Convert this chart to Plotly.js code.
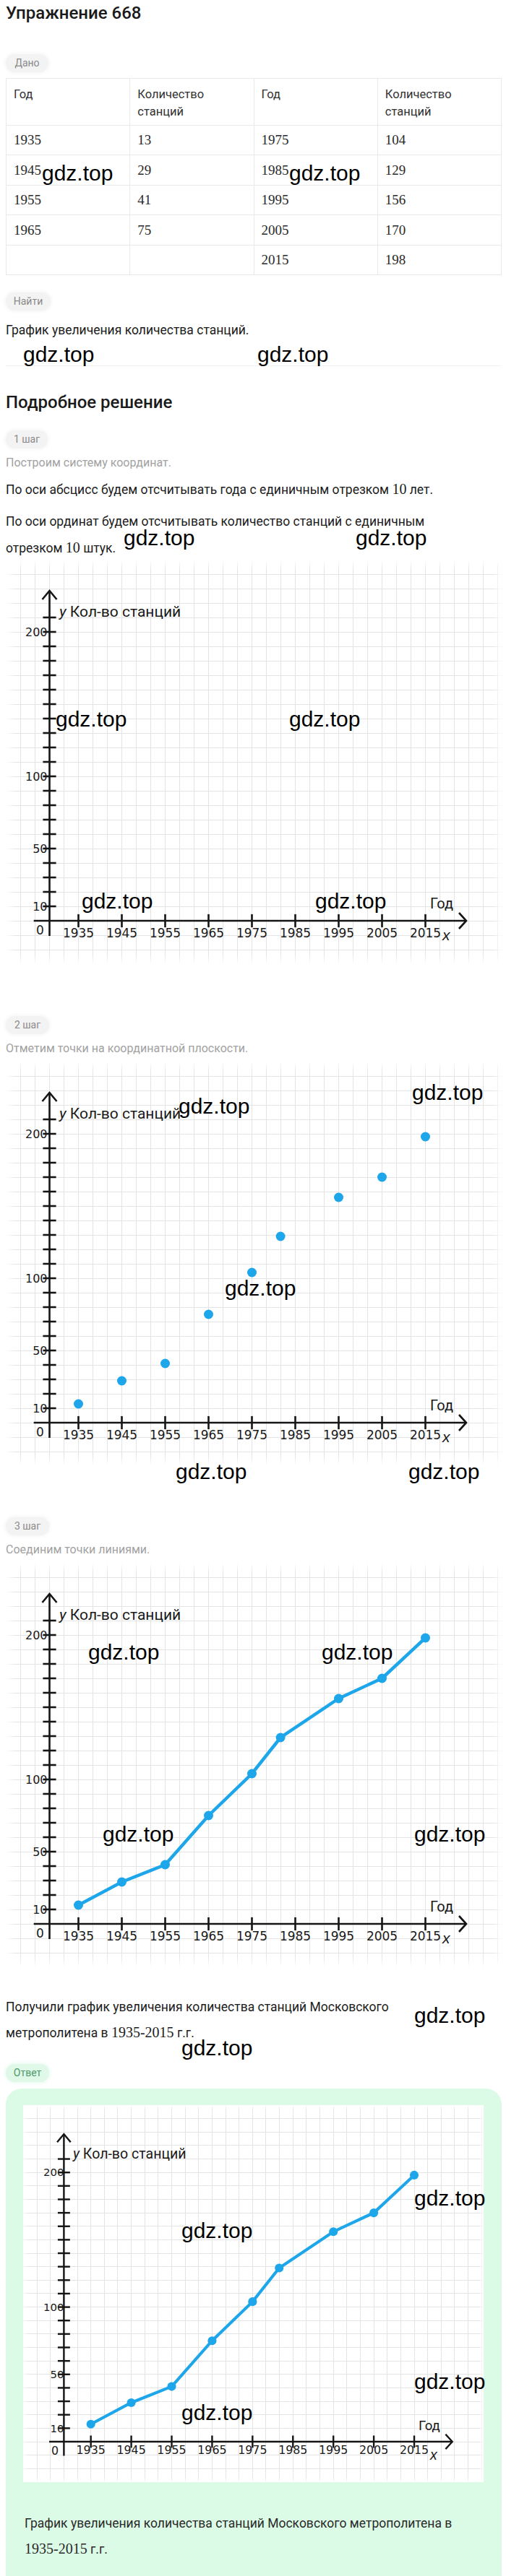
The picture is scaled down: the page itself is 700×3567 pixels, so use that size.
<!DOCTYPE html>
<html>
<head>
<meta charset="utf-8">
<script src="https://cdn.plot.ly/plotly-3.0.1.min.js"></script>
<style>
html,body{margin:0;padding:0;background:#fff;}
#page{position:relative;width:700px;height:3567px;overflow:hidden;font-family:Roboto,"Noto Sans",sans-serif;color:#1c1c1c;}
.t{position:absolute;left:8px;white-space:nowrap;}
.h{font-size:24px;font-weight:500;line-height:28px;color:#1a1a1a;}
.body{font-size:17.5px;line-height:24px;color:#1c1c1c;}
.gray{font-size:16px;line-height:24px;color:#a2a2a2;}
.pill{position:absolute;left:8px;height:25px;line-height:25px;border-radius:13px;background:#f3f3f3;color:#8a8a8a;font-size:14px;text-align:center;box-shadow:0 0 4px 2px #f7f7f7;}
.m{font-family:"Liberation Serif","DejaVu Serif",serif;font-size:20px;}
.wm{position:absolute;font-family:"Liberation Sans",Arial,sans-serif;font-size:30px;line-height:34px;color:#000;white-space:nowrap;z-index:10;}
.panel{position:absolute;background:#fff;}
.fade{position:absolute;left:0;top:0;right:0;bottom:0;pointer-events:none;z-index:3;}
.chart{position:absolute;left:0;top:0;}
#tbl{position:absolute;left:8px;top:108px;width:686px;border-collapse:collapse;table-layout:fixed;}
#tbl td{border:1px solid #e9e9e9;padding:0 0 0 10px;vertical-align:middle;font-family:"Liberation Serif","DejaVu Serif",serif;font-size:19px;color:#2a2a2a;}
#tbl tr.hd td{vertical-align:top;padding-top:10px;font-family:Roboto,sans-serif;font-size:16.5px;line-height:24px;color:#333;}
#green{position:absolute;left:8px;top:2892px;width:686px;height:720px;border-radius:22px;background:#dcfbe7;}
</style>
</head>
<body>
<div id="page">
  <div class="t h" style="top:4px;">Упражнение 668</div>
  <div class="pill" style="top:75px;width:59px;">Дано</div>
  <table id="tbl"></table>
  <div class="pill" style="top:405px;width:62px;">Найти</div>
  <div class="t body" style="top:445px;">График увеличения количества станций.</div>
  <div style="position:absolute;left:8px;width:686px;top:506px;height:1px;background:#f1f1f1;"></div>
  <div class="t h" style="top:543px;">Подробное решение</div>
  <div class="pill" style="top:596px;width:58px;">1 шаг</div>
  <div class="t gray" style="top:629px;">Построим систему координат.</div>
  <div class="t body" style="top:665px;">По оси абсцисс будем отсчитывать года с единичным отрезком <span class="m">10</span> лет.</div>
  <div class="t body" style="top:710px;">По оси ординат будем отсчитывать количество станций с единичным</div>
  <div class="t body" style="top:746px;">отрезком <span class="m">10</span> штук.</div>

  <div class="panel" style="left:8px;top:775px;width:688px;height:560px;"><div id="c1" class="chart"></div><div class="fade" style="box-shadow:inset 0 0 10px 7px #fff;"></div></div>

  <div class="pill" style="top:1407px;width:60px;">2 шаг</div>
  <div class="t gray" style="top:1440px;">Отметим точки на координатной плоскости.</div>
  <div class="panel" style="left:8px;top:1470px;width:688px;height:560px;"><div id="c2" class="chart"></div><div class="fade" style="box-shadow:inset 0 0 10px 7px #fff;"></div></div>

  <div class="pill" style="top:2101px;width:60px;">3 шаг</div>
  <div class="t gray" style="top:2134px;">Соединим точки линиями.</div>
  <div class="panel" style="left:8px;top:2164px;width:688px;height:560px;"><div id="c3" class="chart"></div><div class="fade" style="box-shadow:inset 0 0 10px 7px #fff;"></div></div>

  <div class="t body" style="top:2767px;">Получили график увеличения количества станций Московского</div>
  <div class="t body" style="top:2802px;">метрополитена в <span class="m">1935-2015</span> г.г.</div>

  <div class="pill" style="top:2858px;width:60px;background:#dff8e8;color:#4f9a6b;box-shadow:0 0 4px 2px #eefbf3;">Ответ</div>
  <div id="green"></div>
  <div class="panel" style="left:32px;top:2915px;width:637px;height:522px;"><div id="c4" class="chart"></div><div class="fade" style="box-shadow:inset 0 0 6px 3px #fff;"></div></div>
  <div class="t body" style="left:34px;top:3482px;color:#2a2a2a;">График увеличения количества станций Московского метрополитена в</div>
  <div class="t body" style="left:34px;top:3517px;color:#2a2a2a;"><span class="m">1935-2015</span> г.г.</div>

  <div class="wm" style="left:58px;top:223px;">gdz.top</div>
  <div class="wm" style="left:400px;top:223px;">gdz.top</div>
  <div class="wm" style="left:32px;top:474px;">gdz.top</div>
  <div class="wm" style="left:356px;top:474px;">gdz.top</div>
  <div class="wm" style="left:171px;top:728px;">gdz.top</div>
  <div class="wm" style="left:492px;top:728px;">gdz.top</div>
  <div class="wm" style="left:77px;top:979px;">gdz.top</div>
  <div class="wm" style="left:400px;top:979px;">gdz.top</div>
  <div class="wm" style="left:113px;top:1231px;">gdz.top</div>
  <div class="wm" style="left:436px;top:1231px;">gdz.top</div>
  <div class="wm" style="left:570px;top:1496px;">gdz.top</div>
  <div class="wm" style="left:247px;top:1515px;">gdz.top</div>
  <div class="wm" style="left:311px;top:1767px;">gdz.top</div>
  <div class="wm" style="left:243px;top:2021px;">gdz.top</div>
  <div class="wm" style="left:565px;top:2021px;">gdz.top</div>
  <div class="wm" style="left:122px;top:2271px;">gdz.top</div>
  <div class="wm" style="left:445px;top:2271px;">gdz.top</div>
  <div class="wm" style="left:142px;top:2523px;">gdz.top</div>
  <div class="wm" style="left:573px;top:2523px;">gdz.top</div>
  <div class="wm" style="left:573px;top:2774px;">gdz.top</div>
  <div class="wm" style="left:251px;top:2819px;">gdz.top</div>
  <div class="wm" style="left:573px;top:3027px;">gdz.top</div>
  <div class="wm" style="left:251px;top:3072px;">gdz.top</div>
  <div class="wm" style="left:573px;top:3281px;">gdz.top</div>
  <div class="wm" style="left:251px;top:3324px;">gdz.top</div>
</div>

<script>
// ---- data ----
const years = [1935, 1945, 1955, 1965, 1975, 1985, 1995, 2005, 2015];
const stations = [13, 29, 41, 75, 104, 129, 156, 170, 198];
// x positions of the points as drawn in the picture (the 1985 point sits near 1981.6)
const drawnYears = [1935, 1945, 1955, 1965, 1975, 1981.6, 1995, 2005, 2015];
const xTickYears = [1935, 1945, 1955, 1965, 1975, 1985, 1995, 2005, 2015];
const xTickText = ['1935', '1945', '1955', '1965', '1975', '1985', '1995', '2005', '2015'];
const yTickMarks = [10, 20, 30, 40, 50, 60, 70, 80, 90, 100, 110, 120, 130, 140, 150, 160, 170, 180, 190, 200, 210];
const yLabelVals = [10, 50, 100, 200];
const yLabelText = ['10', '50', '100', '200'];
const headers = ['Год', 'Количество<br>станций', 'Год', 'Количество<br>станций'];

// ---- table ----
(function () {
  const tbl = document.getElementById('tbl');
  const rowH = [65, 41, 42, 41, 42, 41];
  let html = '<tr class="hd" style="height:' + rowH[0] + 'px">' + headers.map(h => '<td>' + h + '</td>').join('') + '</tr>';
  for (let i = 0; i < 5; i++) {
    const l = i < 4;
    html += '<tr style="height:' + rowH[i + 1] + 'px">' +
      '<td>' + (l ? years[i] : '') + '</td>' +
      '<td>' + (l ? stations[i] : '') + '</td>' +
      '<td>' + years[4 + i] + '</td>' +
      '<td>' + stations[4 + i] + '</td></tr>';
  }
  tbl.innerHTML = html;
})();

// ---- charts ----
const BLUE = '#1ea6ea';
const AXC = '#151515';
const GRID = '#e4e4e4';
const X0 = 1928.333; // year position of the vertical axis (origin)

function drawChart(id, k, W, H, mode) {
  const pxYear = 6 * k, pxUnit = 2 * k;
  const ox = 60.5 * k, oy = 500 * k;
  const xr = [X0 - ox / pxYear, X0 + (W - ox) / pxYear];
  const yr = [-(H - oy) / pxUnit, oy / pxUnit];
  const lw = 2.6 * k;
  const traces = [
    { x: yTickMarks.map(() => X0), y: yTickMarks, type: 'scatter', mode: 'markers',
      marker: { symbol: 'line-ew', size: 13 * k, line: { width: lw, color: AXC } }, hoverinfo: 'skip' },
    { x: xTickYears, y: xTickYears.map(() => 0), type: 'scatter', mode: 'markers',
      marker: { symbol: 'line-ns', size: 13 * k, line: { width: lw, color: AXC } }, hoverinfo: 'skip' }
  ];
  if (mode) {
    traces.push({ x: drawnYears, y: stations, type: 'scatter', mode: mode,
      line: { color: BLUE, width: 4.5 * k }, marker: { color: BLUE, size: 13 * k } });
  }
  const ln = { color: AXC, width: lw };
  const layout = {
    width: W, height: H,
    margin: { l: 0, r: 0, t: 0, b: 0, pad: 0 },
    paper_bgcolor: 'rgba(0,0,0,0)', plot_bgcolor: '#ffffff',
    showlegend: false,
    font: { family: 'Roboto, sans-serif', color: '#1a1a1a' },
    xaxis: {
      range: xr, anchor: 'free', position: (0 - yr[0]) / (yr[1] - yr[0]), automargin: false,
      tickmode: 'array', tickvals: xTickYears, ticktext: xTickText, ticks: '',
      showline: false, zeroline: false, showgrid: true, gridcolor: GRID, gridwidth: 1,
      minor: { tickmode: 'linear', tick0: X0, dtick: 10 / 3, showgrid: true, gridcolor: GRID, gridwidth: 1, ticks: '' },
      tickfont: { family: 'DejaVu Sans, sans-serif', size: 17 * k, color: '#1a1a1a' },
      ticklabelstandoff: 5 * k, fixedrange: true
    },
    yaxis: {
      range: yr, anchor: 'free', position: ox / W, automargin: false,
      tickmode: 'array', tickvals: yLabelVals, ticktext: yLabelText, ticks: '',
      showline: false, zeroline: false, showgrid: true, gridcolor: GRID, gridwidth: 1,
      minor: { tickmode: 'linear', tick0: 0, dtick: 10, showgrid: true, gridcolor: GRID, gridwidth: 1, ticks: '' },
      tickfont: { family: 'DejaVu Sans, sans-serif', size: 16 * k, color: '#1a1a1a' },
      ticklabelstandoff: 3 * k, fixedrange: true
    },
    shapes: [
      { type: 'line', xref: 'x', yref: 'y', x0: X0, x1: X0, y0: -10.5, y1: 228.5, line: ln },
      { type: 'line', xref: 'x', yref: 'y', x0: 1924.7, x1: 2024.42, y0: 0, y1: 0, line: ln },
      { type: 'path', xref: 'x', yref: 'y', path: 'M ' + (X0 - 1.667) + ',222.5 L ' + X0 + ',228.5 L ' + (X0 + 1.667) + ',222.5', line: ln },
      { type: 'path', xref: 'x', yref: 'y', path: 'M 2022.75,5.5 L 2024.42,0 L 2022.75,-5.5', line: ln }
    ],
    annotations: [
      { x: X0 + 1.75, y: 214, xref: 'x', yref: 'y', xanchor: 'left', yanchor: 'middle', showarrow: false,
        text: '<i>y</i> Кол-во станций', font: { family: 'Roboto, sans-serif', size: 21 * k, color: '#1a1a1a' } },
      { x: 2018.75, y: 12, xref: 'x', yref: 'y', xanchor: 'center', yanchor: 'middle', showarrow: false,
        text: 'Год', font: { family: 'Roboto, sans-serif', size: 20 * k, color: '#1a1a1a' } },
      { x: 2019.9, y: -9.5, xref: 'x', yref: 'y', xanchor: 'center', yanchor: 'middle', showarrow: false,
        text: '<i>x</i>', font: { family: 'Liberation Sans, sans-serif', size: 21 * k, color: '#1a1a1a' } },
      { x: X0 - 2.25, y: -6.5, xref: 'x', yref: 'y', xanchor: 'center', yanchor: 'middle', showarrow: false,
        text: '0', font: { family: 'DejaVu Sans, sans-serif', size: 17 * k, color: '#1a1a1a' } }
    ]
  };
  Plotly.newPlot(id, traces, layout, { staticPlot: true, displayModeBar: false });
}

drawChart('c1', 1, 688, 560, null);
drawChart('c2', 1, 688, 560, 'markers');
drawChart('c3', 1, 688, 560, 'lines+markers');
drawChart('c4', 0.932, 637, 522, 'lines+markers');
</script>
</body>
</html>
